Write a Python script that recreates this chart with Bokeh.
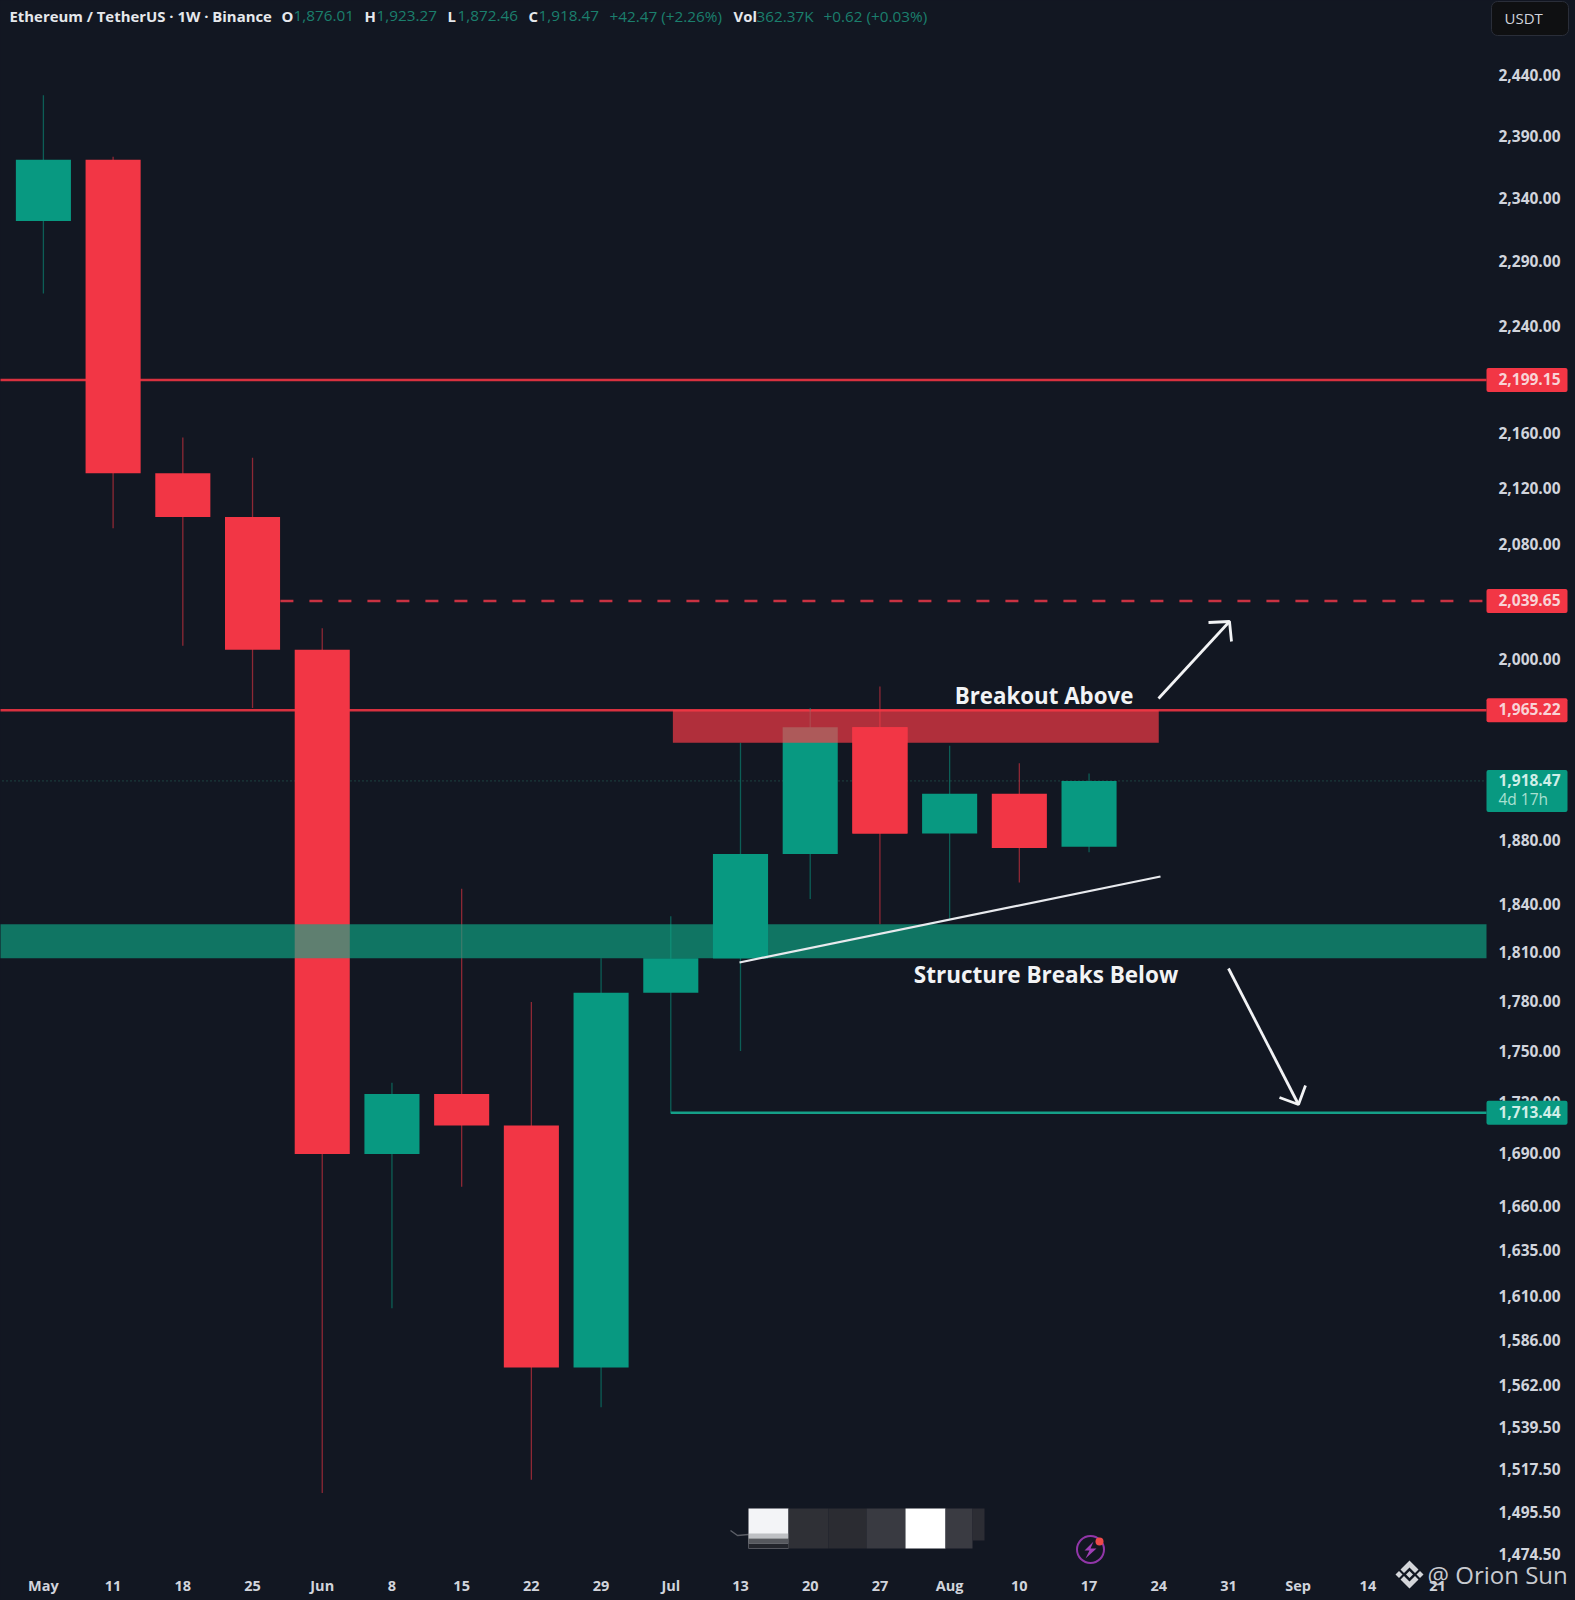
import math
from bokeh.plotting import figure
from bokeh.embed import file_html
from bokeh.resources import INLINE
from bokeh.models import (FixedTicker, NumeralTickFormatter, Label, BoxAnnotation,
                          PolyAnnotation, Range1d)

# ---- data -------------------------------------------------------------
week_labels = ["May","11","18","25","Jun","8","15","22","29","Jul","13","20","27","Aug","10","17","24","31","Sep","14","21"]
opens  = [2321.5, 2370.4, 2130.4, 2098.8, 2006.1, 1689.5, 1724.5, 1706.0, 1571.1, 1784.9, 1806.1, 1871.3, 1953.8, 1884.4, 1910.1, 1876.01]
highs  = [2423.0, 2372.9, 2156.5, 2141.6, 2020.8, 1731.1, 1849.3, 1779.3, 1806.1, 1832.1, 1943.6, 1966.7, 1981.1, 1941.6, 1930.1, 1923.27]
lows   = [2264.9, 2090.8, 2008.9, 1966.7, 1505.3, 1603.1, 1670.8, 1512.1, 1549.9, 1713.2, 1749.9, 1842.9, 1827.0, 1830.2, 1853.2, 1872.46]
closes = [2370.4, 2130.4, 2098.8, 2006.1, 1689.5, 1724.5, 1706.0, 1571.1, 1784.9, 1806.1, 1871.3, 1953.8, 1884.4, 1910.1, 1875.2, 1918.47]
price_ticks = [2440,2390,2340,2290,2240,2160,2120,2080,2000,1880,1840,1810,1780,1750,1720,1690,1660,1635,1610,1586,1562,1539.5,1517.5,1495.5,1474.5]
level_resist = 2199.15
level_target = 2039.65
level_top = 1965.22
level_last = 1918.47
level_low = 1713.44
zone_green = (1806.1, 1827.0)
zone_red = (1943.6, 1965.22)

BG = "#121722"; GREEN = "#089981"; RED = "#F23645"; TXT = "#d1d4dc"
W, H = 1575, 1600
FW, FH = 1486, 1572
STEP = 69.71; X0 = 42.9
PXU = 1479 / math.log(2440 / 1474.5)

def xp(px): return (px - X0) / STEP
def yp(py): return 2440 * math.exp(-(py - 74.3) / PXU)

p = figure(width=W, height=H, y_axis_type="log", y_axis_location="right", x_axis_location="below",
           x_range=Range1d(xp(0), xp(W)), y_range=Range1d(yp(H), yp(0)),
           output_backend="svg", toolbar_location=None, min_border=0)
p.background_fill_color = BG; p.border_fill_color = BG; p.outline_line_color = None
p.grid.visible = False

ax = p.yaxis[0]
ax.fixed_location = xp(FW)
ax.ticker = FixedTicker(ticks=price_ticks)
ax.formatter = NumeralTickFormatter(format="0,0.00")
ax.axis_line_color = None; ax.major_tick_line_color = None; ax.minor_tick_line_color = None
ax.major_tick_out = 0; ax.major_tick_in = 0; ax.minor_tick_out = 0; ax.minor_tick_in = 0
ax.major_label_text_color = TXT; ax.major_label_text_font = "Open Sans"
ax.major_label_text_font_size = "15.5px"; ax.major_label_text_font_style = "bold"; ax.major_label_standoff = 12

bx = p.xaxis[0]
bx.fixed_location = yp(FH)
bx.ticker = FixedTicker(ticks=list(range(len(week_labels))))
bx.major_label_overrides = {i: s for i, s in enumerate(week_labels)}
bx.axis_line_color = None; bx.major_tick_line_color = None; bx.minor_tick_line_color = None
bx.major_tick_out = 0; bx.major_tick_in = 0; bx.minor_tick_out = 0; bx.minor_tick_in = 0
bx.major_label_text_color = TXT; bx.major_label_text_font = "Open Sans"
bx.major_label_text_font_size = "14.5px"; bx.major_label_text_font_style = "bold"; bx.major_label_standoff = 3

# ---- levels under candles ---------------------------------------------
xl, xr = xp(-2), xp(FW)
p.line([xl, xr], [level_resist]*2, line_color="#d8313f", line_width=2.4)
p.line([xl, xr], [level_top]*2, line_color="#d8313f", line_width=2.4)
p.line([3.4, xr], [level_target]*2, line_color="#c93242", line_width=2.6, line_dash="13 16")
p.line([xl, xr], [level_last]*2, line_color="#2a6b5e", line_width=1, line_dash="1 3")
p.line([9, xr], [level_low]*2, line_color="#15a088", line_width=2.4)

# ---- candles -----------------------------------------------------------
idx = list(range(len(opens)))
up = [c >= o for o, c in zip(opens, closes)]
for flag, col in ((True, GREEN), (False, RED)):
    sel = [i for i in idx if up[i] == flag]
    p.segment(sel, [highs[i] for i in sel], sel, [lows[i] for i in sel],
              line_color=col, line_width=1.3, line_alpha=0.55)
    p.vbar(x=sel, width=0.79, top=[max(opens[i], closes[i]) for i in sel],
           bottom=[min(opens[i], closes[i]) for i in sel], fill_color=col, line_color=None)

# ---- zones --------------------------------------------------------------
p.quad(left=[xl], right=[xr], bottom=[zone_green[0]], top=[zone_green[1]], fill_color="#0fa887", fill_alpha=0.65, line_color=None)
p.quad(left=[9.03], right=[16], bottom=[zone_red[0]], top=[zone_red[1]], fill_color="#ff3b47", fill_alpha=0.67, line_color=None)
# these two candles stay unblended where they cross a zone
p.vbar(x=[12], width=0.79, top=[max(opens[12], closes[12])], bottom=[min(opens[12], closes[12])], fill_color=RED, line_color=None)
p.vbar(x=[10], width=0.79, top=[max(opens[10], closes[10])], bottom=[min(opens[10], closes[10])], fill_color=GREEN, line_color=None)

# ---- drawings -----------------------------------------------------------
p.line([xp(739), xp(1160)], [yp(962), yp(876)], line_color="#e8eaee", line_width=2.2)
for pts in (((1158, 698), (1229, 621)), ((1208, 622), (1229, 621), (1231, 641)),
            ((1228, 968), (1298, 1104)), ((1279, 1097), (1298, 1104), (1305, 1085))):
    p.line([xp(a) for a, b in pts], [yp(b) for a, b in pts], line_color="#f2f3f5", line_width=2.8)

def label(px, py, txt, color="white", size="15.5px", style="bold", font="Open Sans", align="left"):
    p.add_layout(Label(x=xp(px), y=yp(py), text=txt, text_color=color, text_font_size=size,
                       text_font_style=style, text_font=font, text_align=align, text_baseline="middle"))

label(1043.5, 695, "Breakout Above", "#f2f3f5", "22.3px", align="center")
label(1045.5, 974, "Structure Breaks Below", "#f2f3f5", "22.5px", align="center")

# ---- header -------------------------------------------------------------
HG = "#1b7f6d"; HW = "#e6e8ec"
label(9, 15.5, "Ethereum / TetherUS · 1W · Binance", HW, "14.9px")
for px, t in ((281, "O"), (364, "H"), (447, "L"), (528, "C"), (733, "Vol")):
    label(px, 15.5, t, HW, "14.9px")
for px, t in ((293, "1,876.01"), (376, "1,923.27"), (457, "1,872.46"), (538, "1,918.47"),
              (609, "+42.47 (+2.26%)"), (756, "362.37K"), (823, "+0.62 (+0.03%)")):
    label(px, 15.5, t, HG, "15.3px", "normal")

# ---- price badges -------------------------------------------------------
def box(l, r, t, b, fill, line=None, radius=2, alpha=1.0):
    p.add_layout(BoxAnnotation(left=xp(l), right=xp(r), top=yp(t), bottom=yp(b), fill_color=fill, fill_alpha=alpha,
                               line_color=line, line_alpha=1 if line else 0, border_radius=radius))

def y_of(price): return 74.3 + PXU * math.log(2440 / price)

for val, fill, tcol in ((level_resist, RED, "#f8d3d6"), (level_target, RED, "#f8d3d6"), (level_top, RED, "#f8d3d6"), (level_low, GREEN, "#cfeee7")):
    yc = y_of(val)
    box(1486, 1567, yc - 12, yc + 12, fill)
    label(1498, yc - 1, f"{val:,.2f}", tcol)
yc = y_of(level_last)
box(1486, 1567, yc - 11, yc + 31, GREEN)
label(1498, yc - 1, f"{level_last:,.2f}", "#cfeee7")
label(1498, yc + 18, "4d 17h", "#a9e0d2", "15.5px", "normal")

box(1491, 1568, 1, 35, "#0f1012", "#2a2e39", radius=6)
label(1504, 17, "USDT", TXT, "15px", "normal")

# ---- blurred blocks at the bottom ----------------------------------------
for l, r, t, b, col, a in ((748, 788, 1508, 1548, "#f3f4f7", 1), (788, 828, 1508, 1548, "#2f3036", 1),
                           (828, 866, 1508, 1548, "#2b2c32", 1), (866, 905, 1508, 1548, "#393a41", 1),
                           (905, 945, 1508, 1548, "#ffffff", 1), (945, 972, 1508, 1548, "#3a3b42", 1),
                           (972, 984, 1508, 1540, "#2c2d34", 1),
                           (748, 788, 1533, 1538, "#8a8c92", 0.5), (748, 788, 1538, 1543, "#45474d", 0.9),
                           (748, 788, 1543, 1548, "#23252c", 1)):
    box(l, r, t, b, col, radius=0, alpha=a)
p.line([xp(730), xp(737), xp(748)], [yp(1530), yp(1535), yp(1534)], line_color="#8c8e94", line_width=1.5, line_alpha=0.6)

# ---- flash icon -----------------------------------------------------------
p.scatter([xp(1090)], [yp(1549)], size=27, marker="circle", fill_color=None, line_color="#9136a8", line_width=2)
p.add_layout(PolyAnnotation(xs=[xp(v) for v in (1093, 1084, 1089, 1085, 1096, 1090)],
                            ys=[yp(v) for v in (1541, 1550, 1550, 1558, 1548, 1548)],
                            fill_color="#a040b8", fill_alpha=1, line_color=None))
p.scatter([xp(1099)], [yp(1541)], size=8, marker="circle", fill_color="#ee4a4a", line_color=None)

# ---- watermark --------------------------------------------------------------
cx, cy = 1409, 1574
for pts in (((0, -14), (9, -5), (5.5, -1.5), (0, -7), (-5.5, -1.5), (-9, -5)),
            ((0, 14), (9, 5), (5.5, 1.5), (0, 7), (-5.5, 1.5), (-9, 5)),
            ((-14, 0), (-10.5, -3.5), (-7, 0), (-10.5, 3.5)),
            ((14, 0), (10.5, -3.5), (7, 0), (10.5, 3.5)),
            ((0, -3.5), (3.5, 0), (0, 3.5), (-3.5, 0))):
    p.add_layout(PolyAnnotation(xs=[xp(cx + a) for a, b in pts], ys=[yp(cy + b) for a, b in pts],
                                fill_color="#d4d6da", fill_alpha=1, line_color=None))
label(1427, 1573.5, "@ Orion Sun", "#c8cacf", "24px", "normal")

html = file_html(p, INLINE)
html = html.replace("<head>", "<head><style>html,body{margin:0;padding:0;background:%s;overflow:hidden}</style>" % BG, 1)
open("out.html", "w").write(html)
